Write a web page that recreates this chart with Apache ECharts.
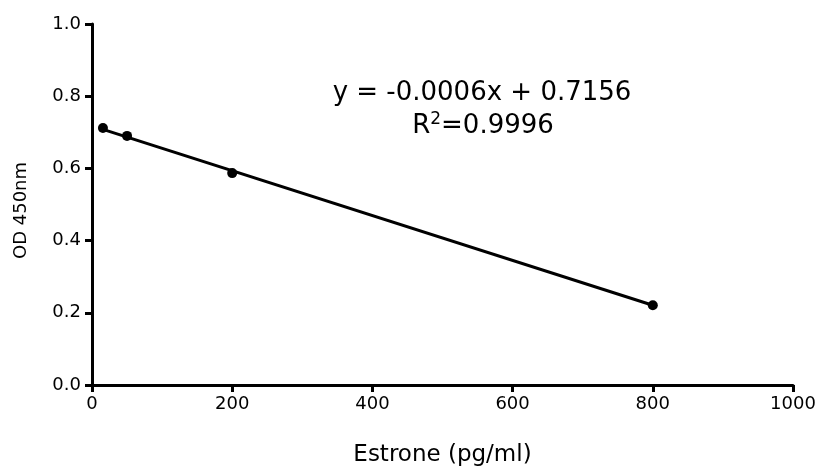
<!DOCTYPE html>
<html>
<head>
<meta charset="utf-8">
<script src="https://cdn.jsdelivr.net/npm/echarts@6/dist/echarts.min.js"></script>
<style>
html,body{margin:0;padding:0;background:#fff;}
#chart{width:818px;height:468px;}
</style>
</head>
<body>
<div id="chart"></div>
<script>
// Data
var concentrations = [15.6, 50, 200, 800];
var odValues = [0.712, 0.690, 0.587, 0.221];
var fitX = [15.6, 800];
var fitY = [0.708, 0.221];
var xTicks = [0, 200, 400, 600, 800, 1000];
var yTicks = [0.0, 0.2, 0.4, 0.6, 0.8, 1.0];
var equationText = 'y = -0.0006x + 0.7156';
var r2Value = '0.9996';
var xTitle = 'Estrone (pg/ml)';
var yTitle = 'OD 450nm';

var FONT = 'DejaVu Sans';
var chart = echarts.init(document.getElementById('chart'));
var option = {
  animation: false,
  backgroundColor: '#fff',
  grid: {left: 92, right: 25, top: 24, bottom: 83, containLabel: false, outerBoundsMode: 'none'},
  xAxis: {
    type: 'value', min: xTicks[0], max: xTicks[xTicks.length - 1], interval: 200,
    name: xTitle, nameLocation: 'middle', nameGap: 59,
    nameTextStyle: {fontFamily: FONT, fontSize: 23, color: '#000'},
    axisLine: {show: true, onZero: false, lineStyle: {color: '#000', width: 3}},
    axisTick: {show: true, inside: false, length: 7, lineStyle: {color: '#000', width: 3}},
    axisLabel: {fontFamily: FONT, fontSize: 18, color: '#000', margin: 10,
      formatter: function (v) { return String(v); }},
    splitLine: {show: false}
  },
  yAxis: {
    type: 'value', min: yTicks[0], max: yTicks[yTicks.length - 1], interval: 0.2,
    name: yTitle, nameLocation: 'middle', nameGap: 62, nameRotate: 90,
    nameTextStyle: {fontFamily: FONT, fontSize: 18, color: '#000', padding: [0, 12, 0, 0]},
    axisLine: {show: true, onZero: false, lineStyle: {color: '#000', width: 3}},
    axisTick: {show: true, inside: false, length: 7, lineStyle: {color: '#000', width: 3}},
    axisLabel: {fontFamily: FONT, fontSize: 18, color: '#000', margin: 11,
      formatter: function (v) { return v.toFixed(1); }},
    splitLine: {show: false}
  },
  series: [
    {
      type: 'line',
      data: fitX.map(function (x, i) { return [x, fitY[i]]; }),
      showSymbol: false, symbol: 'none',
      lineStyle: {color: '#000', width: 3},
      silent: true, z: 2
    },
    {
      type: 'scatter',
      data: concentrations.map(function (x, i) { return [x, odValues[i]]; }),
      symbol: 'circle', symbolSize: 10,
      itemStyle: {color: '#000', opacity: 1},
      z: 3
    }
  ],
  graphic: [
    {
      type: 'text',
      x: 482, y: 93,
      style: {text: equationText, font: '26px "DejaVu Sans"', fill: '#000', align: 'center', verticalAlign: 'middle'}
    },
    {
      type: 'text',
      x: 483, y: 126,
      style: {
        text: '{b|R}{s|2}{b|=' + r2Value + '}',
        align: 'center', verticalAlign: 'middle',
        rich: {
          b: {fontFamily: FONT, fontSize: 26, fill: '#000', color: '#000'},
          s: {fontFamily: FONT, fontSize: 17, fill: '#000', color: '#000', verticalAlign: 'top', padding: [0, 0, 12, 0]}
        }
      }
    }
  ]
};
chart.setOption(option);
</script>
</body>
</html>
